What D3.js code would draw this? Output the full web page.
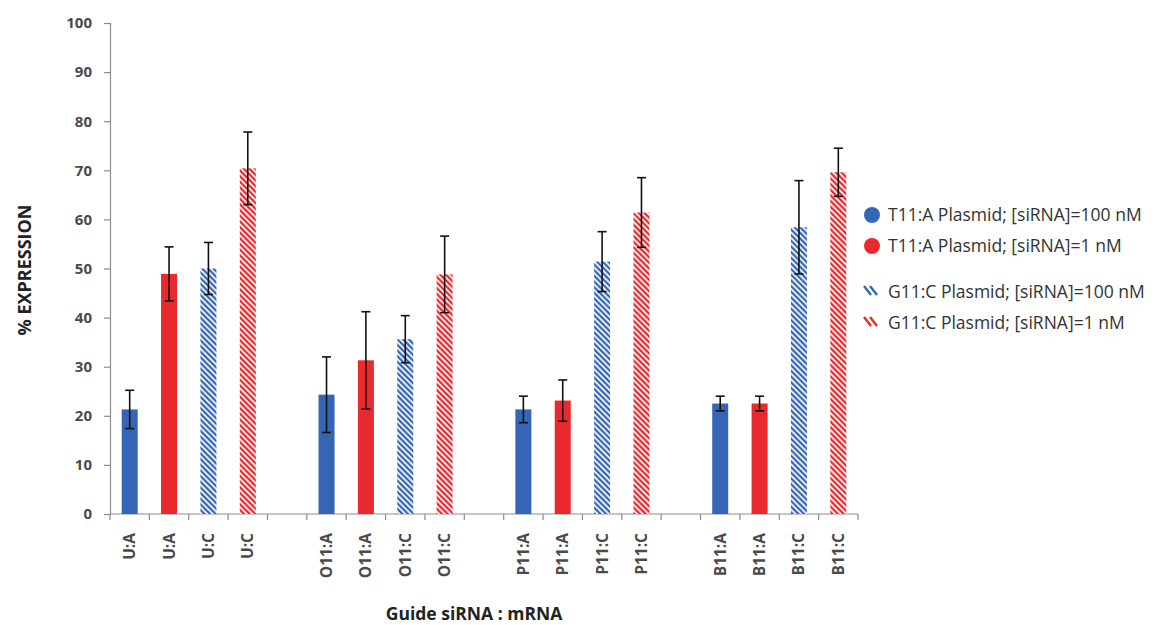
<!DOCTYPE html>
<html><head><meta charset="utf-8">
<script src="https://cdn.jsdelivr.net/npm/d3@7"></script>
<style>body{margin:0;background:#fff;} svg{display:block;}</style>
</head><body><svg id="c" width="1157" height="625"></svg>
<script>
const categories = ["U:A","U:A","U:C","U:C","","O11:A","O11:A","O11:C","O11:C","","P11:A","P11:A","P11:C","P11:C","","B11:A","B11:A","B11:C","B11:C"];
const seriesIdx  = [0,1,2,3,null,0,1,2,3,null,0,1,2,3,null,0,1,2,3];
const values     = [21.3,48.9,50.0,70.4,null,24.3,31.3,35.6,48.8,null,21.3,23.1,51.4,61.4,null,22.5,22.5,58.4,69.6];
const errors     = [3.9,5.5,5.3,7.4,null,7.7,9.9,4.8,7.8,null,2.7,4.2,6.1,7.1,null,1.5,1.5,9.5,4.9];
const seriesNames = ["T11:A Plasmid; [siRNA]=100 nM","T11:A Plasmid; [siRNA]=1 nM","G11:C Plasmid; [siRNA]=100 nM","G11:C Plasmid; [siRNA]=1 nM"];
const yTicks = [0,10,20,30,40,50,60,70,80,90,100];

const BLUE = "#3566b6", RED = "#e8292d";
const seriesColor = [BLUE, RED, BLUE, RED];
const seriesHatch = [false,false,true,true];

const svg = d3.select("#c");
const defs = svg.append("defs");
[["hB",BLUE],["hR",RED]].forEach(([id,col])=>{
  const p = defs.append("pattern").attr("id",id).attr("patternUnits","userSpaceOnUse")
    .attr("width",4).attr("height",4).attr("patternTransform","rotate(-45)");
  p.append("rect").attr("width",4).attr("height",4).attr("fill","#fff");
  p.append("rect").attr("width",2.3).attr("height",4).attr("fill",col);
});
const fillFor = s => seriesHatch[s] ? (seriesColor[s]===BLUE ? "url(#hB)" : "url(#hR)") : seriesColor[s];

const x0 = 110, x1 = 858, yBase = 514, yTop = 23;
const idx = d3.range(categories.length);
const x = d3.scaleBand().domain(idx).range([x0, x1]).paddingInner(0).paddingOuter(0);
const y = d3.scaleLinear().domain([0,100]).range([yBase, yTop]);
const bw = 16;
const axisCol = "#8c8c8c";
const FONT = "Open Sans, Liberation Sans, sans-serif";

// Y axis
const yAxis = svg.append("g").attr("transform",`translate(${x0},0)`)
  .call(d3.axisLeft(y).tickValues(yTicks).tickSize(6).tickPadding(12));
yAxis.select(".domain").attr("stroke",axisCol).attr("stroke-width",1.2);
yAxis.selectAll(".tick line").attr("stroke",axisCol).attr("stroke-width",1.2);
yAxis.selectAll(".tick text").attr("fill","#4a4a4a").attr("font-family",FONT)
  .attr("font-size",15).attr("font-weight","bold");

// X axis line and ticks between categories
const xg = svg.append("g");
xg.append("line").attr("x1",x0).attr("x2",x1).attr("y1",yBase).attr("y2",yBase).attr("stroke",axisCol).attr("stroke-width",1.2);
d3.range(categories.length+1).forEach(i=>{
  const xx = x0 + i*x.bandwidth();
  xg.append("line").attr("x1",xx).attr("x2",xx).attr("y1",yBase).attr("y2",yBase+6).attr("stroke",axisCol).attr("stroke-width",1.2);
});

// Bars
idx.forEach(i=>{
  if (values[i]==null) return;
  const cx = x(i) + x.bandwidth()/2;
  svg.append("rect").attr("x",cx-bw/2).attr("width",bw).attr("y",y(values[i]))
    .attr("height",y(0)-y(values[i])).attr("fill",fillFor(seriesIdx[i]));
});
// Error bars
idx.forEach(i=>{
  if (values[i]==null) return;
  const cx = x(i) + x.bandwidth()/2;
  const hi = y(values[i]+errors[i]), lo = y(values[i]-errors[i]);
  const g = svg.append("g").attr("stroke","#111").attr("stroke-width",1.6);
  g.append("line").attr("x1",cx).attr("x2",cx).attr("y1",hi).attr("y2",lo);
  g.append("line").attr("x1",cx-4.5).attr("x2",cx+4.5).attr("y1",hi).attr("y2",hi);
  g.append("line").attr("x1",cx-4.5).attr("x2",cx+4.5).attr("y1",lo).attr("y2",lo);
});

// X labels (rotated)
idx.forEach(i=>{
  if (!categories[i]) return;
  const cx = x(i) + x.bandwidth()/2;
  svg.append("text").attr("transform",`translate(${cx+5.5},${533}) rotate(-90)`)
    .attr("text-anchor","end").attr("fill","#4a4a4a")
    .attr("font-family",FONT).attr("font-size",15.5).attr("font-weight","bold")
    .text(categories[i]);
});

// Axis titles
svg.append("text").attr("transform","translate(31,270) rotate(-90)").attr("text-anchor","middle")
  .attr("font-family",FONT).attr("font-size",18).attr("font-weight","bold").attr("fill","#222")
  .text("% EXPRESSION");
svg.append("text").attr("x",474).attr("y",620).attr("text-anchor","middle")
  .attr("font-family",FONT).attr("font-size",17.5).attr("font-weight","bold").attr("fill","#222")
  .text("Guide siRNA : mRNA");

// Legend
const legY = [215,246,292,323];
seriesNames.forEach((nm,s)=>{
  const ly = legY[s];
  if (!seriesHatch[s]) {
    svg.append("circle").attr("cx",872).attr("cy",ly).attr("r",8).attr("fill",seriesColor[s]);
  } else {
    [0,6].forEach(dx=>{
      svg.append("line").attr("x1",864+dx).attr("y1",ly-6).attr("x2",871+dx).attr("y2",ly+3)
        .attr("stroke",seriesColor[s]).attr("stroke-width",2.4);
    });
  }
  svg.append("text").attr("x",888).attr("y",ly).attr("dy","0.35em")
    .attr("font-family",FONT).attr("font-size",17.5).attr("fill","#333").attr("textLength",null)
    .text(nm);
});
</script></body></html>
